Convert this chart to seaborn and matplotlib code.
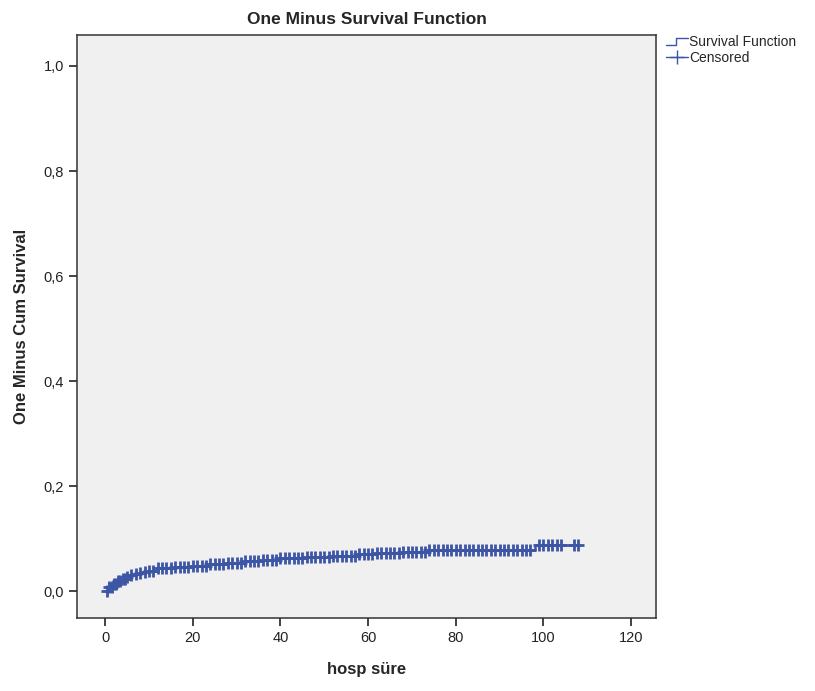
import numpy as np
import pandas as pd
import matplotlib
matplotlib.use("Agg")
import matplotlib.pyplot as plt
import seaborn as sns
from matplotlib.lines import Line2D
from matplotlib.legend_handler import HandlerBase

# event times (days) and one-minus-survival values after each step
event_times = [0, 1, 2, 3, 4, 5, 6, 7, 8, 9, 10, 12, 16, 20, 24, 28, 32, 36,
               40, 46, 52, 58, 62, 68, 74, 98]
one_minus_surv = [0.000, 0.008, 0.014, 0.019, 0.023, 0.027, 0.030, 0.032,
                  0.034, 0.036, 0.038, 0.044, 0.046, 0.048, 0.051, 0.054,
                  0.057, 0.060, 0.063, 0.065, 0.067, 0.070, 0.073, 0.075,
                  0.078, 0.088]

# censored observation times
censored_times = [0.5, 1, 1.5, 2, 2.5, 3, 3.5, 4, 4.5, 5, 6, 7, 8, 9, 10, 11,
                  12, 13, 14, 15, 16, 17, 18, 19, 20, 21, 22, 23, 24, 25, 26,
                  27, 28, 29, 30, 31, 32, 33, 34, 35, 36, 37, 38, 39, 40, 41,
                  42, 43, 44, 45, 46, 47, 48, 49, 50, 51, 52, 53, 54, 55, 56,
                  57, 58, 59, 60, 61, 62, 63, 64, 65, 66, 67, 68, 69, 70, 71,
                  72, 73, 74, 75, 76, 77, 78, 79, 80, 81, 82, 83, 84, 85, 86,
                  87, 88, 89, 90, 91, 92, 93, 94, 95, 96, 97, 99, 100, 101,
                  102, 103, 104, 107, 108]
last_time = 108

x_ticks = [0, 20, 40, 60, 80, 100, 120]
y_ticks = [0.0, 0.2, 0.4, 0.6, 0.8, 1.0]
y_tick_labels = ["0,0", "0,2", "0,4", "0,6", "0,8", "1,0"]

blue = "#3c55a5"


class StepHandler(HandlerBase):
    # little step glyph like the SPSS legend
    def create_artists(self, legend, orig_handle, xdescent, ydescent,
                       width, height, fontsize, trans):
        w, h = width, height
        xs = [-xdescent, -xdescent + 0.45 * w, -xdescent + 0.45 * w, -xdescent + w]
        ys = [-ydescent + 0.15 * h, -ydescent + 0.15 * h, -ydescent + 0.85 * h, -ydescent + 0.85 * h]
        ln = Line2D(xs, ys, color=orig_handle.get_color(), linewidth=1.0, transform=trans)
        return [ln]


sns.set_style("white")
plt.rcParams['font.family'] = ['Liberation Sans', 'DejaVu Sans']

steps = pd.DataFrame({"t": event_times + [last_time],
                      "v": one_minus_surv + [one_minus_surv[-1]]})
idx = np.searchsorted(np.array(event_times), np.array(censored_times), side="right") - 1
cens = pd.DataFrame({"t": censored_times, "v": np.array(one_minus_surv)[idx]})

fig = plt.figure(figsize=(8.15, 6.91), dpi=100)
ax = fig.add_axes([0.0945, 0.1056, 0.7105, 0.8438])
ax.set_facecolor("#f0f0f0")

sns.lineplot(data=steps, x="t", y="v", drawstyle="steps-post", color=blue,
             linewidth=1.8, estimator=None, ax=ax)
sns.scatterplot(data=cens, x="t", y="v", marker="+", s=65, linewidth=2.0,
                color=blue, ax=ax, zorder=3)

ax.set_xlim(-6.4, 125.7)
ax.set_ylim(-0.051, 1.059)
ax.set_xticks(x_ticks)
ax.set_yticks(y_ticks)
ax.set_yticklabels(y_tick_labels)
ax.tick_params(axis="both", direction="out", length=6, width=1.2, colors="#222222",
               labelsize=10.5, left=True, bottom=True)
for s in ax.spines.values():
    s.set_color("#333333")
    s.set_linewidth(1.1)

ax.set_title("One Minus Survival Function", fontsize=12.5, fontweight="bold", pad=8)
ax.set_xlabel("hosp süre", fontsize=12, fontweight="bold", labelpad=12)
ax.set_ylabel("One Minus Cum Survival", fontsize=12, fontweight="bold", labelpad=10)

step_handle = Line2D([], [], color=blue)
cens_handle = Line2D([], [], color=blue, marker="+", markersize=10, linewidth=1.0)
fig.legend([step_handle, cens_handle], ["Survival Function", "Censored"],
           handler_map={step_handle: StepHandler()}, loc="upper left",
           bbox_to_anchor=(0.81, 0.957), frameon=False, fontsize=10,
           handlelength=1.6, handletextpad=0.1, labelspacing=0.15, borderaxespad=0)

fig.savefig("out.png", dpi=100)
